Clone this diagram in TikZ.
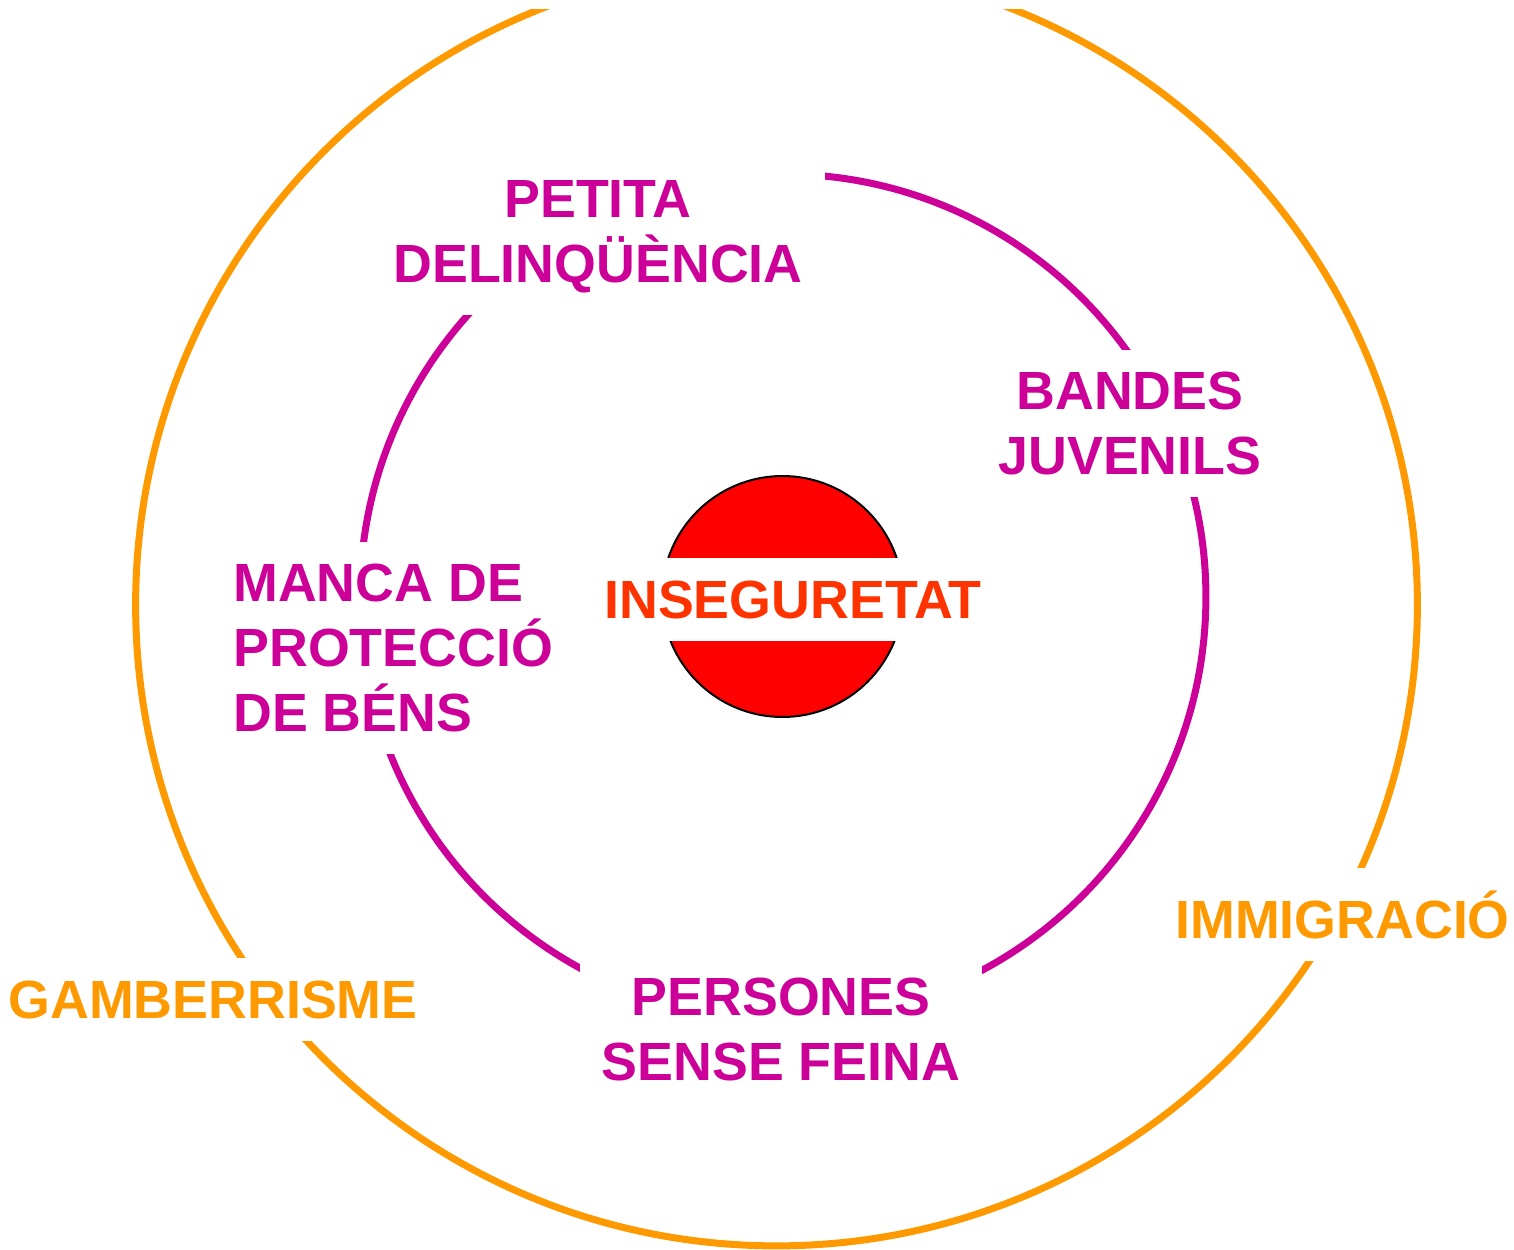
\documentclass[tikz,border=0pt]{standalone}
\usepackage{fontspec}
\setmainfont{Liberation Sans}
\definecolor{rosa}{HTML}{CC0099}
\definecolor{taronja}{HTML}{FF9900}
\definecolor{vermell}{HTML}{FF0000}
\definecolor{vermellt}{HTML}{FF3300}
\begin{document}
\begin{tikzpicture}[x=0.02cm, y=-0.02cm,
    txt/.style={font=\bfseries\fontsize{30.6}{37}\selectfont, fill=white, inner sep=0.44cm, align=center},
    factorint/.style={txt, text=rosa},
    factorext/.style={txt, text=taronja}
]
\useasboundingbox (0,0) rectangle (1514,1250);

% Cercle exterior
\begin{scope}
\clip (0,10) rectangle (1514,1250);
\draw[taronja, line width=0.14cm] (776.5,605) circle [radius=12.82cm];
\end{scope}

% Cercle interior
\draw[rosa, line width=0.14cm] (783,597) circle [radius=8.46cm];

% Centre
\node[circle, draw=black, line width=0.04cm, fill=vermell, minimum size=4.82cm, inner sep=0pt] (centre) at (782.5,596.5) {};
\node[txt, text=vermellt, anchor=base] (inseguretat) at (793,618) {INSEGURETAT};

% Factors
\node[factorint, anchor=north] (petita) at (598,158) {PETITA\\DELINQÜÈNCIA};
\node[factorint, anchor=north] (bandes) at (1130,350) {BANDES\\JUVENILS};
\node[factorint, anchor=north west, align=left] (manca) at (211,542) {MANCA DE\\PROTECCIÓ\\DE BÉNS};
\node[factorint, anchor=north] (persones) at (781,956) {PERSONES\\SENSE FEINA};
\node[factorext, anchor=base] (gamberrisme) at (213,1018) {GAMBERRISME};
\node[factorext, anchor=base] (immigracio) at (1342.5,938) {IMMIGRACIÓ};
\end{tikzpicture}
\end{document}
